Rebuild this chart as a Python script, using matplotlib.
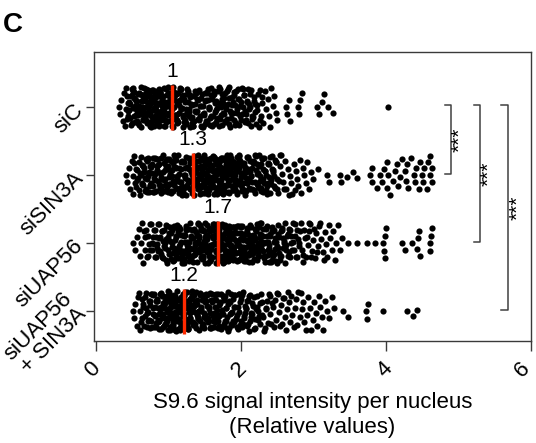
import numpy as np
import matplotlib
matplotlib.use("Agg")
import matplotlib.pyplot as plt
from matplotlib.transforms import ScaledTranslation

plt.rcParams['font.family'] = ['Liberation Sans', 'DejaVu Sans']

# ---------------- data ----------------
groups = ["siC", "siSIN3A", "siUAP56", "siUAP56\n+ SIN3A"]
bin_width = 0.1

# dense part of each swarm: number of points per 0.1-wide bin
bins_start = [0.3, 0.4, 0.5, 0.5]
counts_siC = [5, 16, 22, 25, 27, 28, 27, 25, 21, 19, 18, 18, 18, 17, 17, 16, 15, 15, 13,
              10, 5]
counts_siSIN3A = [5, 12, 16, 19, 19, 19, 19, 19, 20, 22, 26, 29, 29, 29, 28, 25, 21, 18,
                  18, 16, 15, 8, 6, 6, 5, 4]
counts_siUAP56 = [4, 8, 11, 14, 16, 18, 19, 21, 23, 25, 26, 27, 27, 26, 25, 23, 22, 20,
                  19, 17, 15, 13, 11, 9, 8, 7, 6, 5, 4]
counts_siUAP56_SIN3A = [6, 12, 17, 21, 25, 26, 26, 25, 22, 21, 19, 19, 18, 17, 16, 15,
                        13, 11, 9, 8, 7, 7, 6, 6, 5, 5, 4, 3]

# isolated points in the right tails
sparse_siC = [2.40, 2.42, 2.44, 2.46, 2.48, 2.50, 2.62, 2.64, 2.66, 2.68, 2.78, 2.80,
              2.82, 2.84, 3.05, 3.08, 3.12, 3.15, 3.20, 3.27, 4.03]
sparse_siSIN3A = [3.06, 3.19, 3.21, 3.36, 3.38, 3.46, 3.54, 3.60, 3.78, 3.80, 3.81,
                  3.87, 3.92, 3.94, 3.97, 4.01, 4.01, 4.03, 4.06, 4.10, 4.12, 4.15, 4.17,
                  4.19, 4.22, 4.26, 4.28, 4.29, 4.31, 4.34, 4.38, 4.40, 4.42, 4.45, 4.47,
                  4.49, 4.51, 4.53, 4.56, 4.58, 4.61, 4.61, 4.63, 4.64]
sparse_siUAP56 = [3.48, 3.60, 3.74, 3.85, 3.96, 3.97, 3.98, 3.99, 4.00, 4.22, 4.26, 4.36,
                  4.43, 4.44, 4.45, 4.47, 4.60, 4.61, 4.62, 4.63]
sparse_siUAP56_SIN3A = [3.41, 3.47, 3.73, 3.74, 3.75, 3.96, 4.29, 4.37, 4.43]

red_values = [1.05, 1.34, 1.68, 1.21]
red_labels = ["1", "1.3", "1.7", "1.2"]

xticks = [0, 2, 4, 6]
xtick_labels = ["0", "2", "4", "6"]

# significance brackets: (group i, group j, label)
brackets = [(0, 1, "***"), (0, 2, "***"), (0, 3, "***")]

counts_all = [counts_siC, counts_siSIN3A, counts_siUAP56, counts_siUAP56_SIN3A]
sparse_all = [sparse_siC, sparse_siSIN3A, sparse_siUAP56, sparse_siUAP56_SIN3A]


def expand(start, counts, sparse):
    vals = []
    for i, n in enumerate(counts):
        lo = start + i * bin_width
        for k in range(n):
            vals.append(lo + bin_width * (k + 0.5) / n)
    vals.extend(sparse)
    return np.array(vals)


def swarm(vals_px, d):
    """R beeswarm 'swarm' layout, ascending priority (pixel units)."""
    order = np.argsort(vals_px, kind="stable")
    xs = vals_px[order] / d
    ys = np.zeros(len(xs))
    for i in range(1, len(xs)):
        xi = xs[i]
        mask = (xi - xs[:i]) < 1
        if mask.any():
            px_ = xs[:i][mask]
            py_ = ys[:i][mask]
            off = np.sqrt(np.maximum(1 - (xi - px_) ** 2, 0))
            cand = np.concatenate([[0.0], py_ + off, py_ - off])
            dist = (xi - px_)[None, :] ** 2 + (cand[:, None] - py_[None, :]) ** 2
            bad = np.any(dist < 0.999, axis=1)
            cand[bad] = np.inf
            ys[i] = cand[np.argmin(np.abs(cand))]
    out = np.empty_like(ys)
    out[order] = ys * d
    return out


# ---------------- figure ----------------
W, H = 536, 443
fig = plt.figure(figsize=(W / 100, H / 100), dpi=100)
ax_l, ax_r, ax_t, ax_b = 94, 531, 52, 341
ax = fig.add_axes([ax_l / W, 1 - ax_b / H, (ax_r - ax_l) / W, (ax_b - ax_t) / H])

xlim = (-0.028, 6.0)
ylim = (4.44, 0.19)
ax.set_xlim(*xlim)
ax.set_ylim(*ylim)
px_per_x = (ax_r - ax_l) / (xlim[1] - xlim[0])
px_per_y = (ax_b - ax_t) / (ylim[0] - ylim[1])

spacing_px = 7.5     # swarm spacing
corral_px = 40.0     # corral ('wrap') width
positions = [1, 2, 3, 4]

for gi in range(4):
    vals = expand(bins_start[gi], counts_all[gi], sparse_all[gi])
    off = swarm(vals * px_per_x, spacing_px)
    off = ((off + corral_px / 2) % corral_px) - corral_px / 2
    ax.scatter(vals, positions[gi] + off / px_per_y, s=20, color="black",
               linewidths=0, zorder=3)
    v = red_values[gi]
    ax.plot([v, v], [positions[gi] - 0.33, positions[gi] + 0.33], color="#ff2a00",
            lw=2.4, zorder=4, solid_capstyle="butt")
    ax.text(v, positions[gi] - 0.52, red_labels[gi], ha="center", va="center",
            fontsize=15)

# brackets
bx = [4.90, 5.30, 5.68]
tick_w = 0.09
sx = [5.02, 5.42, 5.82]
for k, (i, j, lab) in enumerate(brackets):
    y0 = positions[i] - 0.03
    y1 = positions[j] - 0.02
    ax.plot([bx[k] - tick_w, bx[k], bx[k], bx[k] - tick_w], [y0, y0, y1, y1],
            color="#404040", lw=1.1, zorder=2)
    ax.text(sx[k], (y0 + y1) / 2, lab, rotation=90, ha="center", va="center",
            fontsize=15)

# axes styling
for sp in ax.spines.values():
    sp.set_color("#3a3a3a")
    sp.set_linewidth(1.0)

ax.set_xticks(xticks)
ax.set_xticklabels(xtick_labels, rotation=45, fontsize=16)
ax.tick_params(axis="x", length=7, width=1, color="#3a3a3a", pad=5)
xlab_shift_px = [-3, -2, -1, -9]
for lab, dpx in zip(ax.get_xticklabels(), xlab_shift_px):
    lab.set_transform(lab.get_transform()
                      + ScaledTranslation(dpx / 100, 0, fig.dpi_scale_trans))

ax.set_yticks(positions)
ax.set_yticklabels([])
ax.tick_params(axis="y", length=6, width=1, color="#3a3a3a")

for gi, lab in enumerate(groups):
    lines = lab.split("\n")
    last = lines[-1]
    base = -10 if len(lines) == 1 else -8.0
    ax.annotate(last, xy=(0, positions[gi]), xycoords=("axes fraction", "data"),
                xytext=(base, 0), textcoords="offset points", rotation=45,
                rotation_mode="anchor", ha="right", va="center", fontsize=16)
    if len(lines) > 1:
        ax.annotate(lines[0], xy=(0, positions[gi]), xycoords=("axes fraction", "data"),
                    xytext=(base - 10.5, 11.0), textcoords="offset points", rotation=45,
                    rotation_mode="anchor", ha="right", va="center", fontsize=16)

ax.set_xlabel("S9.6 signal intensity per nucleus\n(Relative values)", fontsize=16,
              labelpad=8)

fig.text(3 / W, 1 - 32 / H, "C", fontsize=20, fontweight="bold", va="baseline",
         ha="left")

fig.savefig("out.png", dpi=100)
